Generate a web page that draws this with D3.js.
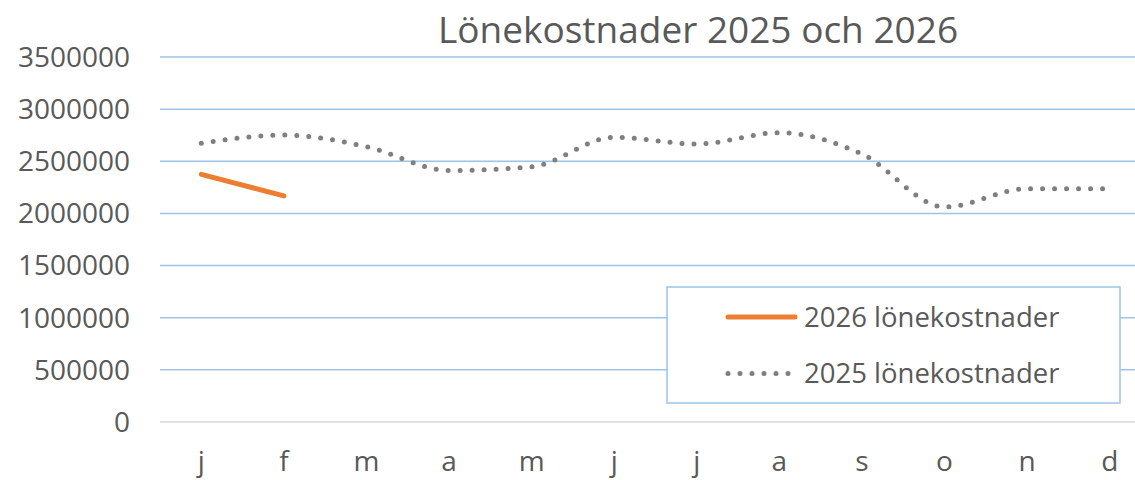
<!DOCTYPE html>
<html>
<head>
<meta charset="utf-8">
<script src="https://cdn.jsdelivr.net/npm/d3@7"></script>
<style>
  body { margin: 0; background: #fff; }
  svg text { font-family: "Open Sans", sans-serif; fill: #595959; }
</style>
</head>
<body>
<script>
(function() {
    'use strict';

    var months = ['j', 'f', 'm', 'a', 'm', 'j', 'j', 'a', 's', 'o', 'n', 'd'];
    var costs2025 = [2673000, 2752000, 2640000, 2412000, 2448000, 2730000,
                     2666000, 2774000, 2570000, 2062000, 2237000, 2237000];
    var costs2026 = [2375000, 2168000];
    var yTicks = [0, 500000, 1000000, 1500000, 2000000, 2500000, 3000000, 3500000];
    var title = 'Lönekostnader 2025 och 2026';
    var names = ['2026 lönekostnader', '2025 lönekostnader'];

    var width = 1135, height = 480;
    var pad = {top: 57, right: 1135 - 1151, bottom: 480 - 422, left: 160};

    var svg = d3.select('body').append('svg')
        .attr('width', width)
        .attr('height', height);

    var scale_x = d3.scaleBand()
        .domain(d3.range(months.length))
        .range([pad.left, width - pad.right]);
    var scale_y = d3.scaleLinear()
        .domain([0, 3500000])
        .range([height - pad.bottom, pad.top]);

    // grid lines
    svg.append('g').selectAll('line')
        .data(yTicks)
        .enter().append('line')
        .attr('x1', pad.left)
        .attr('x2', width - pad.right)
        .attr('y1', function(d) {return scale_y(d);})
        .attr('y2', function(d) {return scale_y(d);})
        .attr('stroke', function(d) {return d === 0 ? '#d9d9d9' : '#9dc3e6';})
        .attr('stroke-width', 1.5);

    // y labels
    svg.append('g').selectAll('text')
        .data(yTicks)
        .enter().append('text')
        .attr('x', 130)
        .attr('y', function(d) {return scale_y(d);})
        .attr('dy', '0.35em')
        .attr('text-anchor', 'end')
        .style('font-size', '28px')
        .text(function(d) {return d;});

    // x labels
    svg.append('g').selectAll('text')
        .data(months)
        .enter().append('text')
        .attr('x', function(d, i) {return scale_x(i) + scale_x.bandwidth() / 2;})
        .attr('y', 471)
        .attr('text-anchor', 'middle')
        .style('font-size', '28px')
        .text(function(d) {return d;});

    svg.append('text')
        .attr('x', 698)
        .attr('y', 43)
        .attr('text-anchor', 'middle')
        .style('font-size', '37px')
        .text(title);

    var line = d3.line()
        .x(function(d, i) {return scale_x(i) + scale_x.bandwidth() / 2;})
        .y(function(d) {return scale_y(d);})
        .curve(d3.curveMonotoneX);

    svg.append('path')
        .attr('d', line(costs2025))
        .attr('fill', 'none')
        .attr('stroke', '#7f7f7f')
        .attr('stroke-width', 5)
        .attr('stroke-linecap', 'round')
        .attr('stroke-dasharray', '0 12');

    svg.append('path')
        .attr('d', line(costs2026))
        .attr('fill', 'none')
        .attr('stroke', '#ed7d31')
        .attr('stroke-width', 5)
        .attr('stroke-linecap', 'round');

    // legend
    var legend = svg.append('g');
    legend.append('rect')
        .attr('x', 667).attr('y', 287)
        .attr('width', 453).attr('height', 116)
        .attr('fill', '#fff')
        .attr('stroke', '#9dc3e6')
        .attr('stroke-width', 1.5);
    var items = legend.selectAll('g.item')
        .data(names)
        .enter().append('g')
        .attr('class', 'item')
        .attr('transform', function(d, i) {return 'translate(0,' + (317 + i * 56.5) + ')';});
    items.append('line')
        .attr('x1', 728).attr('x2', 795)
        .attr('y1', 0).attr('y2', 0)
        .attr('stroke', function(d, i) {return i === 0 ? '#ed7d31' : '#7f7f7f';})
        .attr('stroke-width', 5)
        .attr('stroke-linecap', 'round')
        .attr('stroke-dasharray', function(d, i) {return i === 0 ? null : '0 12';});
    items.append('text')
        .attr('x', 804)
        .attr('y', 0)
        .attr('dy', '0.35em')
        .style('font-size', '27.5px')
        .text(function(d) {return d;});
})();
</script>
</body>
</html>
